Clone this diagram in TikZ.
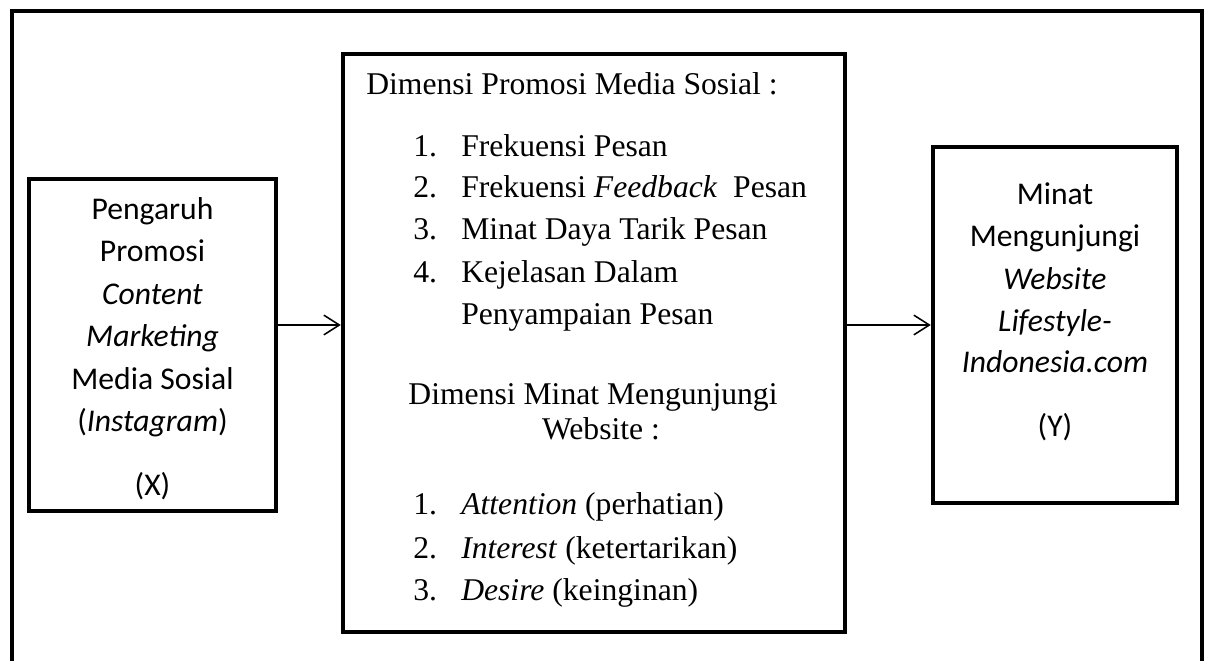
\documentclass[tikz,border=0pt]{standalone}
\usepackage{fontspec}
\setmainfont{Liberation Serif}
\newfontfamily\calibri{Carlito}
\usetikzlibrary{arrows.meta}

\tikzset{
  box/.style={draw,line width=3.2pt,inner sep=0pt},
  sanstxt/.style={font=\calibri\fontsize{22.5}{29.5}\selectfont,anchor=base,inner sep=0pt},
  serftxt/.style={font=\fontsize{22.5}{29.5}\selectfont,inner sep=0pt},
  conn/.style={line width=1.1pt,-{Straight Barb[length=11pt,width=14pt,line width=1.1pt]}}
}

\begin{document}
\begin{tikzpicture}[x=0.025cm,y=-0.025cm]
        \clip (0,0) rectangle (1209,661);

        %% outer frame (bottom edge is cut off)
        \draw[line width=3pt] (12,700) -- (12,11) -- (1202,11) -- (1202,700);

        %% boxes
        \node[box,minimum width=247*0.025cm,minimum height=332*0.025cm] (xbox) at (152.5,345) {};
        \node[box,minimum width=502*0.025cm,minimum height=578*0.025cm] (mbox) at (594,343) {};
        \node[box,minimum width=244*0.025cm,minimum height=356*0.025cm] (ybox) at (1055,325) {};

        %% left box (X)
        \foreach \yy/\txt [count=\i] in {220/Pengaruh,262/Promosi,305/\textit{Content},
            347/\textit{Marketing},390/Media Sosial,432/(\textit{Instagram}),495/(X)}
          \node[sanstxt] (xl\i) at (152.5,\yy) {\txt};

        %% right box (Y)
        \foreach \yy/\txt [count=\i] in {205/Minat,247/Mengunjungi,290/\textit{Website},
            332/\textit{Lifestyle-},373/\textit{Indonesia.com},437/(Y)}
          \node[sanstxt] (yl\i) at (1055,\yy) {\txt};

        %% middle box
        \node[serftxt,anchor=base west] (mt1) at (366,95) {Dimensi Promosi Media Sosial :};
        \foreach \yy/\nn/\txt [count=\i] in {157/1./Frekuensi Pesan,
            198/2./Frekuensi \textit{Feedback}\ \ Pesan,240/3./Minat Daya Tarik Pesan,
            283/4./Kejelasan Dalam}
          {
          \node[serftxt,anchor=base west] (pn\i) at (413,\yy) {\nn};
          \node[serftxt,anchor=base west] (pi\i) at (461,\yy) {\txt};
          }
        \node[serftxt,anchor=base west] (pi5) at (461,325) {Penyampaian Pesan};

        \node[serftxt,anchor=base] (mt2) at (593,405) {Dimensi Minat Mengunjungi};
        \node[serftxt,anchor=base] (mt3) at (601,440) {Website :};
        \foreach \yy/\nn/\txt [count=\i] in {515/1./\textit{Attention} (perhatian),
            558/2./\textit{Interest} (ketertarikan),600/3./\textit{Desire} (keinginan)}
          {
          \node[serftxt,anchor=base west] (wn\i) at (413,\yy) {\nn};
          \node[serftxt,anchor=base west] (wi\i) at (461,\yy) {\txt};
          }

        %% arrows
        \draw[conn] (xbox.east |- 0,325) -- (mbox.west |- 0,325);
        \draw[conn] (mbox.east |- ybox.west) -- (ybox.west);
      \end{tikzpicture}
\end{document}
